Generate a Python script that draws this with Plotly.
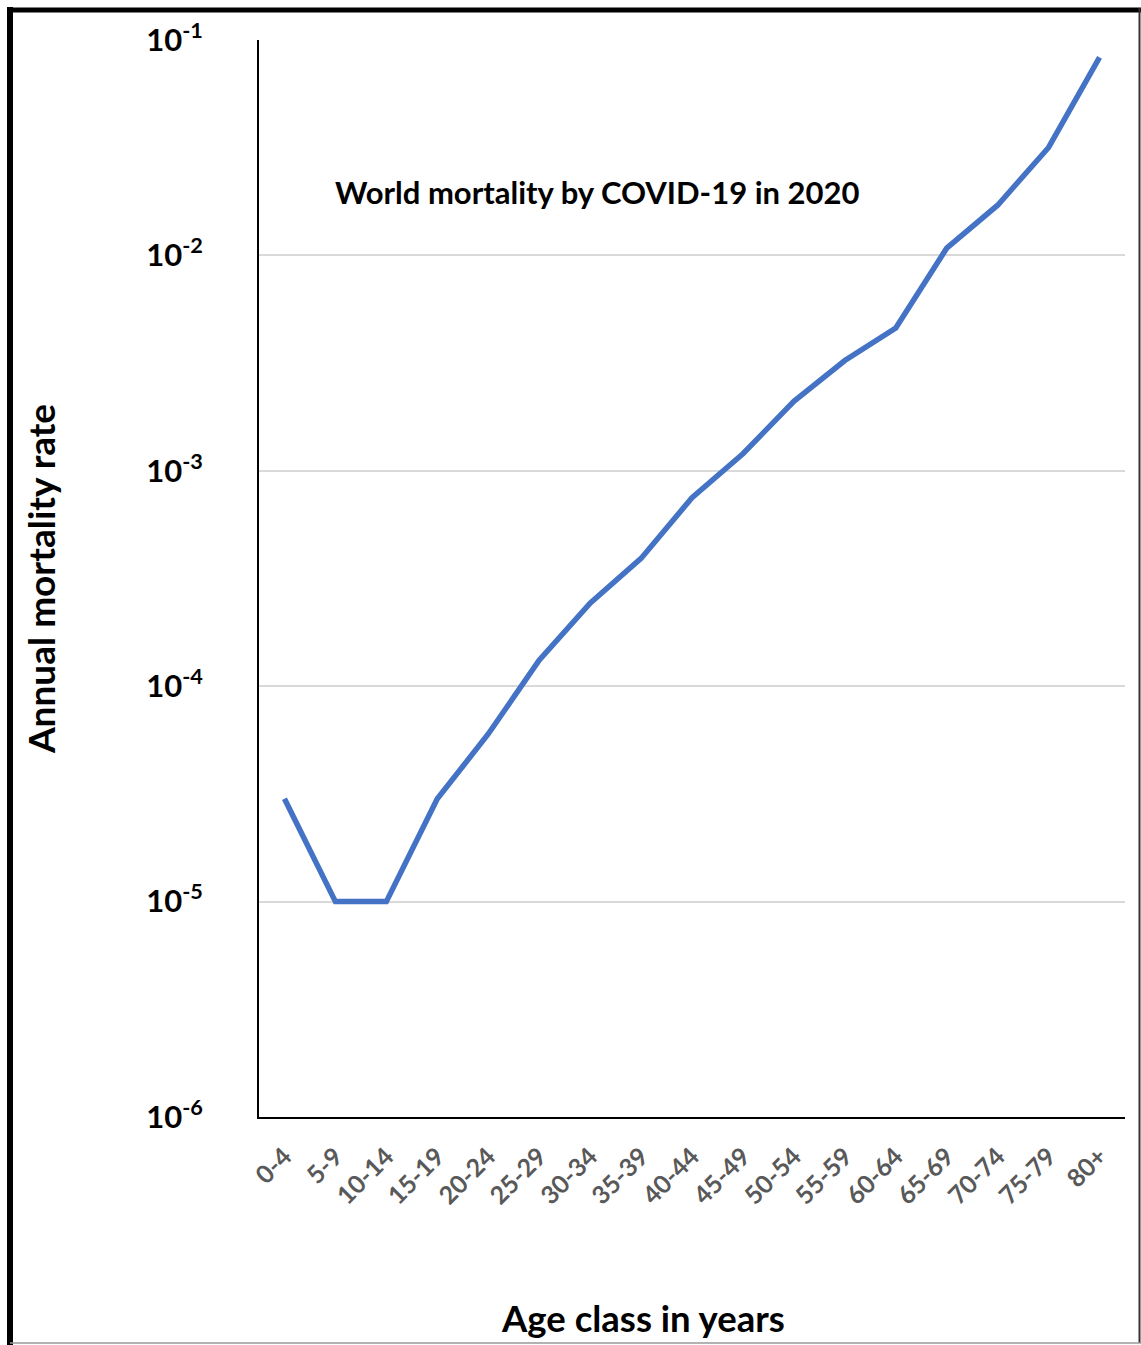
import plotly.graph_objects as go

age_classes = ["0-4", "5-9", "10-14", "15-19", "20-24", "25-29", "30-34", "35-39",
               "40-44", "45-49", "50-54", "55-59", "60-64", "65-69", "70-74", "75-79", "80+"]
mortality = [3.0e-5, 1.0e-5, 1.0e-5, 3.0e-5, 6.0e-5, 1.32e-4, 2.43e-4, 3.92e-4,
             7.5e-4, 1.2e-3, 2.1e-3, 3.25e-3, 4.6e-3, 1.08e-2, 1.71e-2, 3.17e-2, 8.3e-2]
ytick_vals = [1e-6, 1e-5, 1e-4, 1e-3, 1e-2, 1e-1]
ytick_text = ["10<sup>-6</sup>", "10<sup>-5</sup>", "10<sup>-4</sup>",
              "10<sup>-3</sup>", "10<sup>-2</sup>", "10<sup>-1</sup>"]

W, H = 1141, 1345
L, R, T, B = 259, 16, 40, 228
PW, PH = W - L - R, H - T - B

def px(x):
    return (x - L) / PW

def py(y):
    return (H - B - y) / PH

FONT = "Lato"

fig = go.Figure()
fig.add_trace(go.Scatter(
    x=age_classes, y=mortality, mode="lines",
    line=dict(color="#4472C4", width=5.5),
    showlegend=False,
))

fig.update_layout(
    width=W, height=H,
    margin=dict(l=L, r=R, t=T, b=B),
    paper_bgcolor="white", plot_bgcolor="white",
    font=dict(family=FONT, color="black"),
    xaxis=dict(
        type="category",
        showline=True, linecolor="black", linewidth=2,
        showgrid=False, ticks="",
        tickangle=-45,
        tickvals=age_classes,
        ticktext=["<b>%s</b>" % a for a in age_classes],
        tickfont=dict(family=FONT, size=25, color="#595959"),
        ticklabelstandoff=13,
        range=[-0.5, 16.5],
    ),
    yaxis=dict(
        type="log", range=[-6, -1],
        showline=True, linecolor="black", linewidth=2,
        showgrid=True, gridcolor="#d9d9d9", gridwidth=1.5,
        ticks="",
        tickvals=ytick_vals, ticktext=["<b>%s</b>" % t for t in ytick_text],
        tickfont=dict(family=FONT, size=31, color="black"),
        ticklabelstandoff=48,
        title=dict(text="<b>Annual mortality rate</b>", font=dict(family=FONT, size=37, color="black"),
                   standoff=79),
        zeroline=False,
    ),
)

# x-axis title (offset left of the plot centre, as in the original)
fig.add_annotation(
    x=px(643), y=py(1318), xref="paper", yref="paper",
    text="<b>Age class in years</b>",
    showarrow=False, font=dict(family=FONT, size=36.5, color="black"),
    xanchor="center", yanchor="middle",
)

fig.add_annotation(
    x=px(597), y=py(192), xref="paper", yref="paper",
    text="<b>World mortality by COVID-19 in 2020</b>",
    showarrow=False, font=dict(family=FONT, size=31, color="black"),
    xanchor="center", yanchor="middle",
)

# Outer frame (thick black top/left, thin right/bottom)
fig.add_shape(type="line", xref="paper", yref="paper",
              x0=px(10), x1=px(10), y0=py(1345), y1=py(7), line=dict(color="black", width=6))
fig.add_shape(type="line", xref="paper", yref="paper",
              x0=px(7), x1=px(1141), y0=py(10), y1=py(10), line=dict(color="black", width=5))
fig.add_shape(type="line", xref="paper", yref="paper",
              x0=px(1139.5), x1=px(1139.5), y0=py(1343), y1=py(8), line=dict(color="#333333", width=2))
fig.add_shape(type="line", xref="paper", yref="paper",
              x0=px(10), x1=px(1141), y0=py(1343), y1=py(1343), line=dict(color="#999999", width=1.5))

fig.write_html("out.html", config={"displayModeBar": False},
               post_script="document.body.style.margin='0';")
